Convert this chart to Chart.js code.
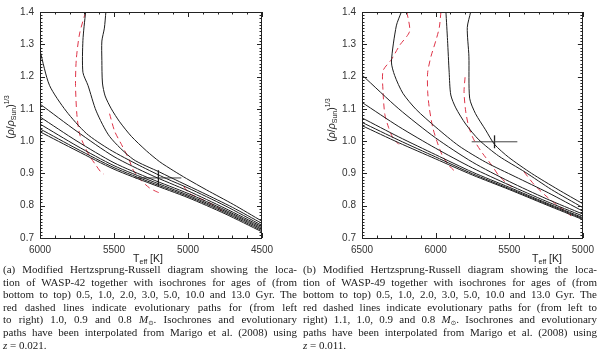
<!DOCTYPE html>
<html>
<head>
<meta charset="utf-8">
<script src="https://cdn.jsdelivr.net/npm/chart.js@4.4.1/dist/chart.umd.min.js"></script>
<style>
  body { margin: 0; background: #fff; }
  #page { position: relative; width: 600px; height: 361px; overflow: hidden; background: #fff; }
  canvas.plot { position: absolute; top: 0; }
  .ytitle { position: absolute; width: 90px; height: 14px; line-height: 14px; text-align: center;
            font: 10.5px "Liberation Sans", sans-serif; color: #222; transform: rotate(-90deg); white-space: nowrap; }
  .xtitle { position: absolute; width: 80px; text-align: center; font: 10.5px "Liberation Sans", sans-serif; color: #222; white-space: nowrap; }
  .ytitle sub, .xtitle sub { font-size: 7px; vertical-align: -2px; line-height: 0; }
  .ytitle sup { font-size: 6.5px; vertical-align: 5px; line-height: 0; }
  .cap { position: absolute; top: 263px; width: 294px; font: 11px "Liberation Serif", serif; line-height: 12.6px; color: #1a1a1a; }
  .cap div { white-space: nowrap; height: 12.6px; }
  .cap sub { font: 6.5px "DejaVu Sans", sans-serif; vertical-align: -2px; line-height: 0; }
</style>
</head>
<body>
<div id="page">
  <canvas id="chartA" class="plot" width="300" height="262" style="left:0"></canvas>
  <canvas id="chartB" class="plot" width="300" height="262" style="left:300px"></canvas>

  <div class="ytitle" style="left:-34px; top:110px">(<i>ρ</i>/<i>ρ</i><sub>Sun</sub>)<sup>1/3</sup></div>
  <div class="ytitle" style="left:287px; top:113px">(<i>ρ</i>/<i>ρ</i><sub>Sun</sub>)<sup>1/3</sup></div>
  <div class="xtitle" style="left:108px; top:252px">T<sub>eff</sub> [K]</div>
  <div class="xtitle" style="left:507px; top:252px">T<sub>eff</sub> [K]</div>

  <div class="cap" style="left:3px">
    <div class="j">(a) Modified Hertzsprung-Russell diagram showing the loca-</div>
    <div class="j">tion of WASP-42 together with isochrones for ages of (from</div>
    <div class="j">bottom to top) 0.5, 1.0, 2.0, 3.0, 5.0, 10.0 and 13.0 Gyr. The</div>
    <div class="j">red dashed lines indicate evolutionary paths for (from left</div>
    <div class="j">to right) 1.0, 0.9 and 0.8 <i>M</i><sub>⊙</sub>. Isochrones and evolutionary</div>
    <div class="j">paths have been interpolated from Marigo et al. (2008) using</div>
    <div><i>z</i> = 0.021.</div>
  </div>
  <div class="cap" style="left:303px">
    <div class="j">(b) Modified Hertzsprung-Russell diagram showing the loca-</div>
    <div class="j">tion of WASP-49 together with isochrones for ages of (from</div>
    <div class="j">bottom to top) 0.5, 1.0, 2.0, 3.0, 5.0, 10.0 and 13.0 Gyr. The</div>
    <div class="j">red dashed lines indicate evolutionary paths for (from left to</div>
    <div class="j">right) 1.1, 1.0, 0.9 and 0.8 <i>M</i><sub>⊙</sub>. Isochrones and evolutionary</div>
    <div class="j">paths have been interpolated from Marigo et al. (2008) using</div>
    <div><i>z</i> = 0.011.</div>
  </div>
</div>

<script>
'use strict';

// ---- shared axis values ----
var rhoTicks = [0.7, 0.8, 0.9, 1.0, 1.1, 1.2, 1.3, 1.4];
var teffTicksA = [6000, 5500, 5000, 4500];
var teffTicksB = [6500, 6000, 5500, 5000];

// ---- panel (a): WASP-42, isochrones (Teff, rho^1/3) ----
var isoA1 = [[6000,1.029],[5750,0.970],[5500,0.913],[5250,0.868],[5000,0.825],[4750,0.775],[4500,0.719]];
var isoA2 = [[6000,1.038],[5750,0.976],[5500,0.918],[5250,0.872],[5000,0.829],[4750,0.779],[4500,0.723]];
var isoA3 = [[6000,1.053],[5750,0.985],[5500,0.924],[5250,0.877],[5000,0.833],[4750,0.783],[4500,0.727]];
var isoA4 = [[6000,1.075],[5750,1.000],[5500,0.933],[5250,0.883],[5000,0.838],[4750,0.787],[4500,0.731]];
var isoA5 = [[6000,1.115],[5750,1.030],[5500,0.952],[5250,0.895],[5000,0.846],[4750,0.792],[4500,0.735]];
var isoA6 = [[6000,1.280],[5936,1.173],[5823,1.093],[5687,1.024],[5529,0.974],[5326,0.924],[5146,0.884],[5000,0.855],[4750,0.800],[4500,0.739]];
var isoA7 = [[5692,1.400],[5710,1.312],[5710,1.213],[5676,1.173],[5620,1.093],[5529,1.014],[5371,0.944],[5191,0.904],[5056,0.874],[4900,0.840],[4700,0.795],[4500,0.745]];
var isoA8 = [[5555,1.400],[5565,1.350],[5582,1.310],[5582,1.250],[5578,1.180],[5560,1.140],[5518,1.100],[5462,1.060],[5383,1.015],[5281,0.970],[5191,0.936],[5100,0.909],[5010,0.884],[4875,0.849],[4694,0.804],[4500,0.752]];
// evolutionary tracks 1.0, 0.9, 0.8 Msun
var trkA1 = [[5692,1.400],[5733,1.332],[5755,1.252],[5760,1.173],[5751,1.083],[5733,1.023],[5699,0.984],[5665,0.954],[5620,0.924],[5590,0.905],[5570,0.898]];
var trkA2 = [[5530,1.085],[5495,1.030],[5450,0.990],[5400,0.945],[5370,0.910],[5320,0.880],[5260,0.855],[5210,0.843],[5180,0.838]];
var trkA3 = [[5030,0.860],[4990,0.838],[4930,0.825],[4860,0.810],[4800,0.795],[4760,0.780]];
var starA = { teff: 5200, teffErr: 155, rho: 0.886, rhoErr: 0.024 };

// ---- panel (b): WASP-49 ----
var isoB1 = [[6500,1.048],[6250,0.995],[6000,0.945],[5750,0.895],[5500,0.850],[5250,0.803],[5000,0.757]];
var isoB2 = [[6500,1.058],[6250,1.003],[6000,0.951],[5750,0.899],[5500,0.853],[5250,0.806],[5000,0.760]];
var isoB3 = [[6500,1.072],[6250,1.013],[6000,0.958],[5750,0.904],[5500,0.857],[5250,0.809],[5000,0.763]];
var isoB4 = [[6500,1.120],[6250,1.045],[6000,0.978],[5750,0.917],[5500,0.864],[5250,0.814],[5000,0.768]];
var isoB5 = [[6500,1.205],[6250,1.100],[6000,1.010],[5750,0.935],[5500,0.875],[5250,0.822],[5000,0.774]];
var isoB6 = [[6233,1.400],[6267,1.357],[6300,1.245],[6278,1.203],[6222,1.148],[6132,1.098],[5998,1.043],[5841,0.985],[5661,0.935],[5460,0.890],[5235,0.840],[5000,0.783]];
var isoB7 = [[5930,1.400],[5919,1.312],[5908,1.213],[5897,1.143],[5863,1.103],[5796,1.053],[5706,1.004],[5572,0.954],[5392,0.904],[5213,0.850],[5000,0.794]];
var isoB8 = [[5762,1.400],[5785,1.352],[5774,1.263],[5769,1.133],[5729,1.085],[5661,1.035],[5600,0.990],[5504,0.950],[5348,0.900],[5168,0.850],[5000,0.806]];
// evolutionary tracks 1.1, 1.0, 0.9, 0.8 Msun
var trkB1 = [[6195,1.400],[6177,1.340],[6244,1.297],[6300,1.253],[6357,1.218],[6357,1.153],[6345,1.083],[6320,1.043],[6290,1.010],[6250,0.990]];
var trkB2 = [[5964,1.400],[5975,1.352],[5998,1.312],[6031,1.263],[6054,1.213],[6054,1.153],[6043,1.103],[6020,1.043],[5987,0.994],[5953,0.954],[5908,0.924],[5875,0.909]];
var trkB3 = [[5800,1.198],[5807,1.153],[5796,1.093],[5774,1.043],[5740,1.004],[5684,0.964],[5617,0.924],[5572,0.894],[5516,0.869],[5482,0.859]];
var trkB4 = [[5400,0.905],[5330,0.865],[5250,0.830],[5170,0.800],[5110,0.780],[5080,0.768]];
var starB = { teff: 5600, teffErr: 155, rho: 0.998, rhoErr: 0.020 };

var BLACK = '#1c1c1c', RED = 'rgb(222,52,72)';

function toXY(arr) {
	return arr.map(function (p) { return {x: p[0], y: p[1]}; });
}

function solid(arr) {
	return {data: toXY(arr), showLine: true, borderColor: BLACK, borderWidth: 1, pointRadius: 0, tension: 0.25, fill: false};
}

function dashed(arr) {
	return {data: toXY(arr), showLine: true, borderColor: RED, borderWidth: 1, borderDash: [6, 4], pointRadius: 0, tension: 0.25, fill: false};
}

function errorBars(s) {
	return [
		{data: [{x: s.teff - s.teffErr, y: s.rho}, {x: s.teff + s.teffErr, y: s.rho}], showLine: true, borderColor: '#444', borderWidth: 1, pointRadius: 0},
		{data: [{x: s.teff, y: s.rho - s.rhoErr}, {x: s.teff, y: s.rho + s.rhoErr}], showLine: true, borderColor: '#222', borderWidth: 1.3, pointRadius: 0}
	];
}

// box frame with inward major/minor ticks, placed by the scales
var frameTicks = {
	id: 'frameTicks',
	afterDatasetsDraw: function (chart) {
		var ctx = chart.ctx, a = chart.chartArea, x = chart.scales.x, y = chart.scales.y, i, px, py, len;
		ctx.save();
		ctx.strokeStyle = '#222';
		ctx.lineWidth = 1;
		ctx.strokeRect(Math.round(a.left) + 0.5, Math.round(a.top) + 0.5, Math.round(a.right - a.left) - 1, Math.round(a.bottom - a.top));
		ctx.beginPath();
		for (i = 0; x.min + i * 100 <= x.max; i++) {
			px = Math.round(x.getPixelForValue(x.min + i * 100)) + 0.5;
			len = ((x.min + i * 100) % 500 === 0) ? 5 : 2.5;
			ctx.moveTo(px, a.bottom); ctx.lineTo(px, a.bottom - len);
			ctx.moveTo(px, a.top); ctx.lineTo(px, a.top + len);
		}
		for (i = 0; i <= 70; i++) {
			py = Math.round(y.getPixelForValue(0.7 + i * 0.01)) + 0.5;
			len = (i % 10 === 0) ? 5 : 2.5;
			ctx.moveTo(a.left, py); ctx.lineTo(a.left + len, py);
			ctx.moveTo(a.right, py); ctx.lineTo(a.right - len, py);
		}
		ctx.stroke();
		ctx.restore();
	}
};

function makeChart(id, datasets, xTicks, yWidth, padRight) {
	var tickFont = {family: '"Liberation Sans", sans-serif', size: 10};
	return new Chart(document.getElementById(id), {
		type: 'scatter',
		data: {datasets: datasets},
		options: {
			responsive: false,
			animation: false,
			layout: {padding: {left: 0, right: padRight, top: 4, bottom: 0}},
			plugins: {legend: {display: false}, tooltip: {enabled: false}},
			scales: {
				x: {
					type: 'linear', reverse: true,
					min: xTicks[xTicks.length - 1], max: xTicks[0],
					afterBuildTicks: function (s) { s.ticks = xTicks.map(function (v) { return {value: v}; }); },
					afterFit: function (s) { s.height = 24; },
					ticks: {font: tickFont, color: '#333', padding: 6, maxRotation: 0, autoSkip: false,
						callback: function (v) { return String(v); }},
					grid: {display: false, drawTicks: false},
					border: {display: false}
				},
				y: {
					type: 'linear',
					min: rhoTicks[0], max: rhoTicks[rhoTicks.length - 1],
					afterBuildTicks: function (s) { s.ticks = rhoTicks.map(function (v) { return {value: v}; }); },
					afterFit: function (s) { s.width = yWidth; },
					ticks: {font: tickFont, color: '#333', padding: 6, callback: function (v) { return v.toFixed(1); }},
					grid: {display: false, drawTicks: false},
					border: {display: false}
				}
			}
		},
		plugins: [frameTicks]
	});
}

var dsA = [isoA1, isoA2, isoA3, isoA4, isoA5, isoA6, isoA7, isoA8].map(solid)
	.concat([trkA1, trkA2, trkA3].map(dashed))
	.concat(errorBars(starA));
var dsB = [isoB1, isoB2, isoB3, isoB4, isoB5, isoB6, isoB7, isoB8].map(solid)
	.concat([trkB1, trkB2, trkB3, trkB4].map(dashed))
	.concat(errorBars(starB));

makeChart('chartA', dsA, teffTicksA, 40, 38);
makeChart('chartB', dsB, teffTicksB, 62, 15);

// justify caption lines through word spacing
Array.prototype.forEach.call(document.querySelectorAll('.cap div.j'), function (el) {
	var span = document.createElement('span');
	while (el.firstChild) { span.appendChild(el.firstChild); }
	el.appendChild(span);
	var spaces = (span.textContent.match(/ /g) || []).length;
	var extra = 294 - span.getBoundingClientRect().width;
	if (spaces) { el.style.wordSpacing = (extra / spaces) + 'px'; }
});
</script>
</body>
</html>
